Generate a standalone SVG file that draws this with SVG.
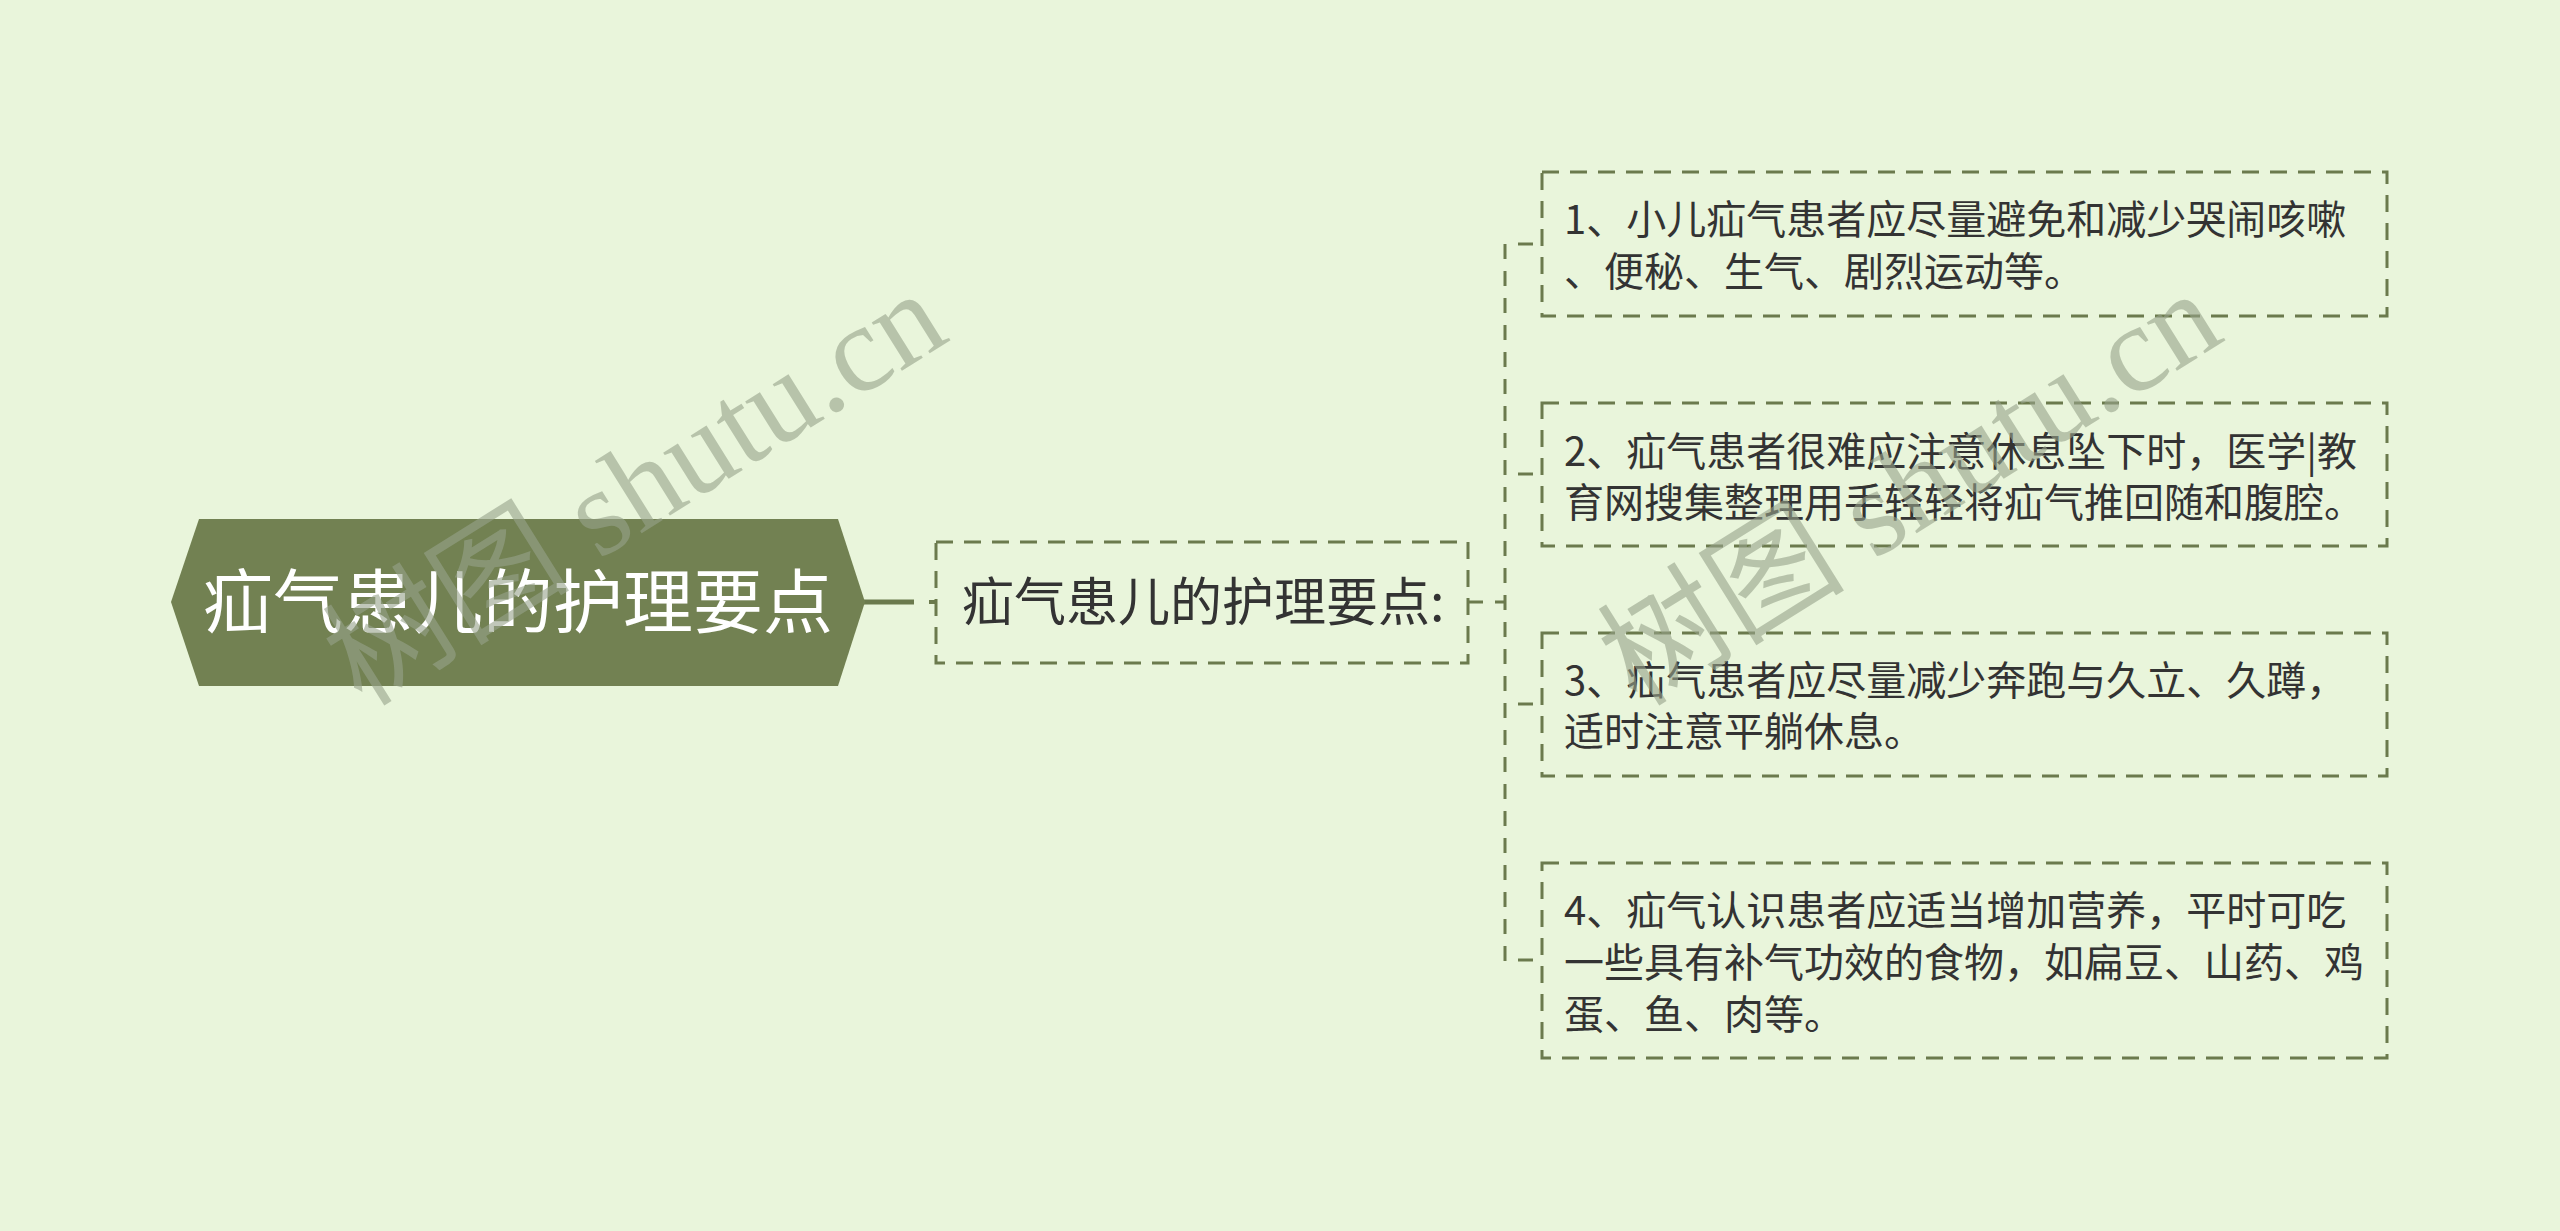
<svg xmlns="http://www.w3.org/2000/svg" width="2560" height="1231" viewBox="0 0 2560 1231">
<style>
.bg{fill:#e9f5db}
.root{fill:#728152}
.rt{fill:#ffffff;font-family:"Noto Sans CJK SC","Noto Sans",sans-serif;font-size:70px}
.box{fill:none;stroke:#6b7a4d;stroke-width:3;stroke-dasharray:17 11}
.st{fill:#333333;font-family:"Noto Sans CJK SC","Noto Sans",sans-serif;font-size:52px}
.ct{fill:#333333;font-family:"Noto Sans CJK SC","Noto Sans",sans-serif;font-size:40px}
.con{fill:none;stroke:#6b7a4d;stroke-width:3;stroke-dasharray:15 12}
.solid{fill:none;stroke:#6b7a4d;stroke-width:5}
.wm{fill:#97a38b;opacity:0.6;font-family:"Liberation Serif","Noto Sans CJK SC",serif;font-size:124px}
</style>
<rect class="bg" x="0" y="0" width="2560" height="1231"/>
<g id="connectors">
<line class="solid" x1="863" y1="602" x2="914" y2="602"/>
<line class="solid" x1="929" y1="602" x2="936" y2="602" style="stroke-width:4"/>
<line class="con" x1="1468" y1="602" x2="1505" y2="602"/>
<line class="con" x1="1505" y1="244" x2="1505" y2="961"/>
<line class="con" x1="1518" y1="244" x2="1542" y2="244"/>
<line class="con" x1="1518" y1="474" x2="1542" y2="474"/>
<line class="con" x1="1518" y1="704" x2="1542" y2="704"/>
<line class="con" x1="1518" y1="960" x2="1542" y2="960"/>
</g>
<g id="root">
<polygon class="root" points="171,602 199,519 838,519 865,602 838,686 199,686"/>
<text class="rt" x="518" y="628" text-anchor="middle">疝气患儿的护理要点</text>
</g>
<g id="sub">
<rect class="box" x="936" y="542" width="532" height="121"/>
<text class="st" x="962" y="621">疝气患儿的护理要点:</text>
</g>
<g id="c1">
<rect class="box" x="1542" y="172" width="845" height="144"/>
<text class="ct" x="1564" y="234">1、小儿疝气患者应尽量避免和减少哭闹咳嗽</text>
<text class="ct" x="1564" y="286">、便秘、生气、剧烈运动等。</text>
</g>
<g id="c2">
<rect class="box" x="1542" y="403" width="845" height="143"/>
<text class="ct" x="1564" y="466">2、疝气患者很难应注意休息坠下时，医学|教</text>
<text class="ct" x="1564" y="517">育网搜集整理用手轻轻将疝气推回随和腹腔。</text>
</g>
<g id="c3">
<rect class="box" x="1542" y="633" width="845" height="143"/>
<text class="ct" x="1564" y="695">3、疝气患者应尽量减少奔跑与久立、久蹲，</text>
<text class="ct" x="1564" y="746">适时注意平躺休息。</text>
</g>
<g id="c4">
<rect class="box" x="1542" y="863" width="845" height="195"/>
<text class="ct" x="1564" y="925">4、疝气认识患者应适当增加营养，平时可吃</text>
<text class="ct" x="1564" y="977">一些具有补气功效的食物，如扁豆、山药、鸡</text>
<text class="ct" x="1564" y="1029">蛋、鱼、肉等。</text>
</g>
<g id="watermarks">
<text class="wm" transform="translate(362,708) rotate(-32)">树图 shutu.cn</text>
<text class="wm" transform="translate(1637,708) rotate(-32)">树图 shutu.cn</text>
</g>
</svg>
